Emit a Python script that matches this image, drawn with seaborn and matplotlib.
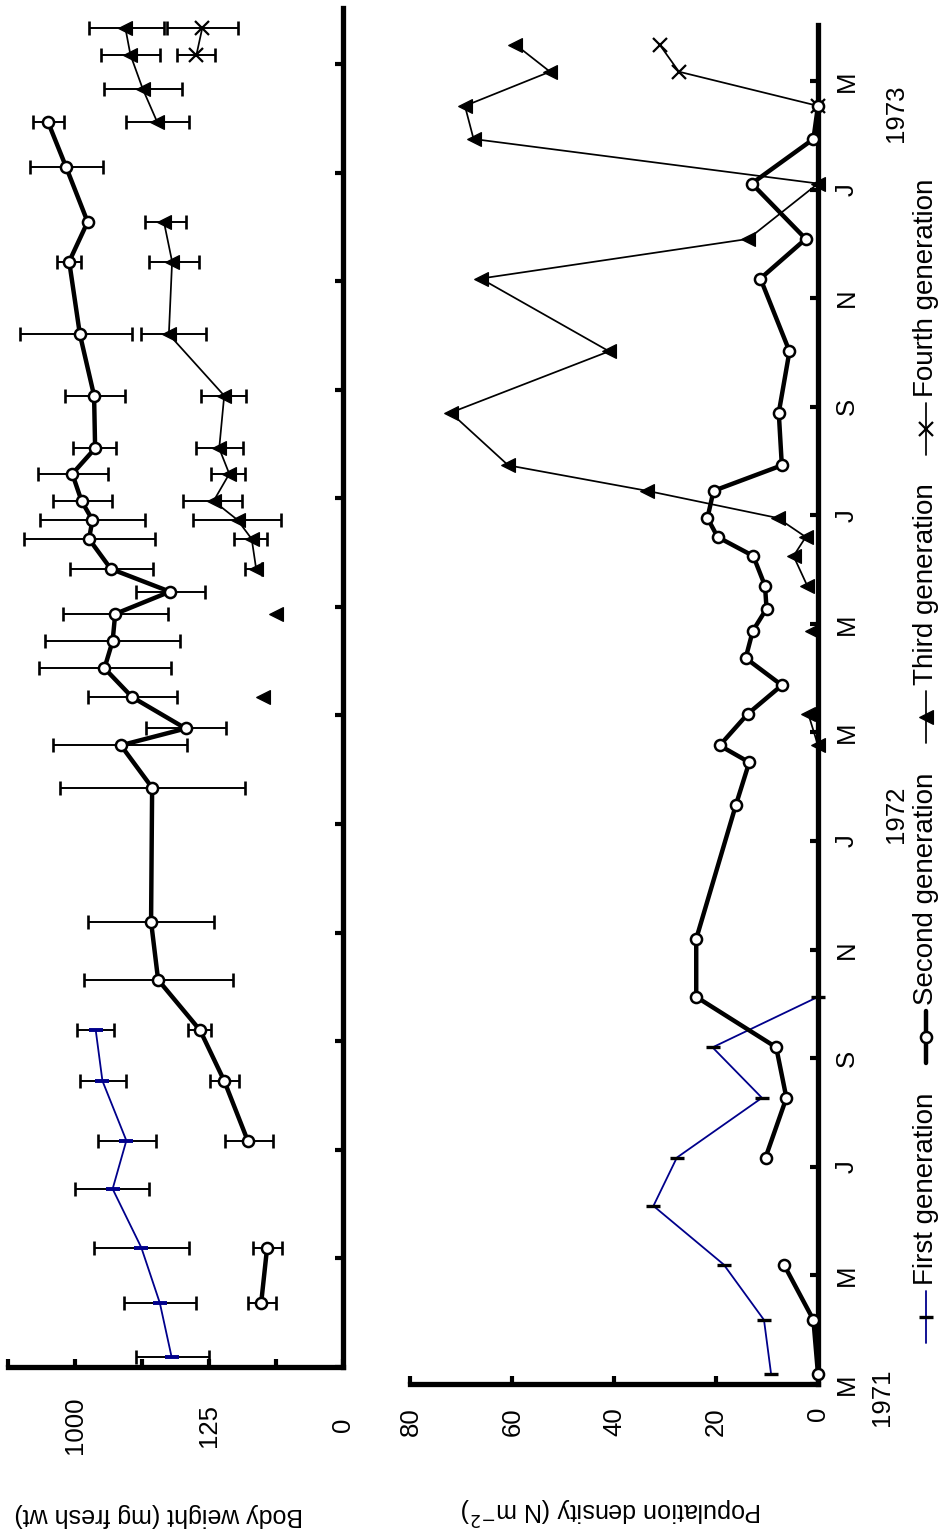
import numpy as np
import pandas as pd
import matplotlib
matplotlib.use("Agg")
import matplotlib.pyplot as plt
import seaborn as sns
from matplotlib.lines import Line2D
from matplotlib import font_manager

n = np.nan

# ---------------- data ----------------
# sampling dates, in months after 1 March 1971
sample_month = [0.18, 1.18, 2.20, 3.28, 4.17, 5.27, 6.20, 7.13, 8.20, 10.67, 11.45, 11.76,
                12.34, 12.87, 13.37, 13.87, 14.28, 14.70, 15.25, 15.60, 15.95, 16.45, 16.92,
                17.89, 19.02, 20.36, 21.09, 22.11, 22.93, 23.54, 24.17, 24.67]

# body weight (mg fresh wt): mean and error-bar ends
gen1_weight = [262, 320, 427, 636, 529, 724, 786] + [n] * 25
gen1_weight_lo = [125, 166, 190, 378, 343, 529, 621] + [n] * 25
gen1_weight_hi = [462, 549, 799, 1000, 761, 947, 976] + [n] * 25

gen2_weight = [n, 28.7, 22.9, n, 45.3, 87.5, 152, 329, 368, 362, 570, 203, 489, 706, 636, 615,
               270, 651, 852, 818, 929, 1031, 792, 802, 947, 1067, 866, 1106, 1334, n, n, n]
gen2_weight_lo = [n, 15.6, 11.7, n, 18.2, 58.3, 119, 70.3, 111, 49.1, 197, 83.7, 240, 267, 226, 278,
                  138, 357, 347, 406, 643, 677, 607, 542, 489, 938, n, 722, 1131, n, n, n]
gen2_weight_hi = [n, 45.3, 37.6, n, 85.2, 123, 193, 900, 866, 1177, 1262, 395, 858, 1459, 1371, 1139,
                  462, 1059, 1693, 1440, 1266, 1470, 1021, 1118, 1758, 1211, n, 1598, 1549, n, n, n]

gen3_weight = [n] * 12 + [27.0, n, n, 15.6, n, 34.3, 39.8, 61.2, 113, 76.8, 99.0, 87.5,
                          275, 260, 299, n, 334, 418, 500, 537]
gen3_weight_lo = [n] * 12 + [n, n, n, n, n, 27.6, 23.2, 12.8, 54.4, 48.6, 51.8, 47.6,
                             133, 156, 200, n, 190, 216, 321, 299]
gen3_weight_hi = [n] * 12 + [n, n, n, n, n, 48.6, 67.1, 175, 214, 119, 166, 148,
                             427, 381, 407, n, 529, 706, 736, 852]

gen4_weight = [n] * 30 + [164, 145]
gen4_weight_lo = [n] * 30 + [109, 61.2]
gen4_weight_hi = [n] * 30 + [237, 283]

# population density (N m-2)
gen1_density = [9.2, 10.6, 18.5, 32.3, 27.7, 11.0, 20.7, 0] + [n] * 24
gen2_density = [0, 0.9, 6.7, n, 10.3, 6.2, 8.2, 23.9, 23.9, 16.1, 13.5, 19.3, 13.8, 7.1, 14.2, 12.8,
                10.1, 10.4, 12.7, 19.7, 21.7, 20.5, 7.1, 7.7, 5.6, 11.3, 2.4, 13.0, 0.9, 0, n, n]
gen3_density = [n] * 11 + [0, 1.9, n, n, 1.2, n, 2.1, 4.8, 2.4, 7.9, 33.5, 60.8, 72.1, 41.0,
                           66.2, 13.7, 0, 67.6, 69.3, 52.6, 59.4]
gen4_density = [n] * 29 + [0, 27.3, 31.1]

# axes ticks / labels
month_ticks = [0, 2, 4, 6, 8, 10, 12, 14, 16, 18, 20, 22, 24]
month_labels = ["M", "M", "J", "S", "N", "J", "M", "M", "J", "S", "N", "J", "M"]
year_labels = ["1971", "1972", "1973"]
year_positions = [-0.24, 10.5, 23.4]
weight_ticks = [0, 15.625, 125, 421.875, 1000, 1953.125]
weight_tick_labels = ["0", "", "125", "", "1000", ""]
density_ticks = [0, 20, 40, 60, 80]
density_tick_labels = ["0", "20", "40", "60", "80"]
legend_labels = ["First generation", "Second generation", "Third generation", "Fourth generation"]

# ---------------- style ----------------
sns.set_theme(style="white")
plt.rcParams["font.family"] = ["Liberation Sans", "DejaVu Sans"]
names = {f.name for f in font_manager.fontManager.ttflist}
if "Liberation Sans Narrow" in names:
    tick_family, tick_size = ["Liberation Sans Narrow", "DejaVu Sans"], 21.5
else:
    tick_family, tick_size = ["Liberation Sans", "DejaVu Sans"], 18.5

W, H = 946, 1536
fig = plt.figure(figsize=(W / 100, H / 100), dpi=100)
fig.patch.set_facecolor("white")


def fx(px):
    return px / W


def fy(py):
    return 1 - py / H


ax1 = fig.add_axes([fx(8), fy(1367), (343.3 - 8) / W, (1367 - 8) / H])
ax2 = fig.add_axes([fx(410.4), fy(1384), (818 - 410.4) / W, (1384 - 25) / H])

ax1.set_xscale("function", functions=(np.cbrt, lambda v: v ** 3))

BLUE = "#00008b"
styles = {
    "g1": dict(color=BLUE, linewidth=1.3, marker="_", markersize=10, markeredgewidth=2.8,
               markeredgecolor=BLUE, markerfacecolor=BLUE),
    "g1b": dict(color=BLUE, linewidth=1.3, marker="_", markersize=10, markeredgewidth=2.4,
                markeredgecolor="black", markerfacecolor="black"),
    "g2": dict(color="black", linewidth=3.2, marker="o", markersize=8, markeredgewidth=1.8,
               markeredgecolor="black", markerfacecolor="white"),
    "g3": dict(color="black", linewidth=1.25, marker="<", markersize=9.5, markeredgewidth=0.8,
               markeredgecolor="black", markerfacecolor="black"),
    "g4": dict(color="black", linewidth=1.25, marker="x", markersize=9.5, markeredgewidth=1.6,
               markeredgecolor="black", markerfacecolor="black"),
}


def frame(values):
    v = np.asarray(values, dtype=float)
    seg = np.cumsum(np.isnan(v))
    df = pd.DataFrame({"month": sample_month, "value": v, "segment": seg})
    return df.dropna(subset=["value"])


def draw(ax, values, style):
    df = frame(values)
    sns.lineplot(data=df, x="value", y="month", units="segment", estimator=None,
                 orient="y", sort=False, legend=False, ax=ax, clip_on=False, zorder=3,
                 **styles[style])


def errbars(ax, mean, lo, hi):
    m = np.asarray(mean, float)
    l = np.asarray(lo, float)
    h = np.asarray(hi, float)
    t = np.asarray(sample_month, float)
    ok = ~(np.isnan(m) | np.isnan(l) | np.isnan(h))
    ax.errorbar(m[ok], t[ok], xerr=np.vstack([m[ok] - l[ok], h[ok] - m[ok]]), fmt="none",
                ecolor="black", elinewidth=1.4, capsize=4.7, capthick=1.9, zorder=2,
                clip_on=False)


# ---------- body weight panel ----------
errbars(ax1, gen1_weight, gen1_weight_lo, gen1_weight_hi)
errbars(ax1, gen2_weight, gen2_weight_lo, gen2_weight_hi)
errbars(ax1, gen3_weight, gen3_weight_lo, gen3_weight_hi)
errbars(ax1, gen4_weight, gen4_weight_lo, gen4_weight_hi)
draw(ax1, gen1_weight, "g1")
draw(ax1, gen2_weight, "g2")
draw(ax1, gen3_weight, "g3")
draw(ax1, gen4_weight, "g4")

# ---------- density panel ----------
draw(ax2, gen1_density, "g1b")
draw(ax2, gen3_density, "g3")
draw(ax2, gen4_density, "g4")
draw(ax2, gen2_density, "g2")

for ax in (ax1, ax2):
    ax.set_xlabel("")
    ax.set_ylabel("")
    ax.set_facecolor("white")
    ax.grid(False)
    ax.set_ylim(0, 25.03)
    ax.set_yticks(month_ticks)
    for s in ("top", "left"):
        ax.spines[s].set_visible(False)
    for s in ("bottom", "right"):
        ax.spines[s].set_visible(True)
        ax.spines[s].set_linewidth(3.8)
        ax.spines[s].set_color("black")
    ax.tick_params(axis="x", which="major", direction="in", length=5.5, width=3,
                   color="black", bottom=True, top=False)
    ax.tick_params(axis="y", which="major", direction="in", length=5.5, width=3,
                   color="black", left=False, right=True, labelleft=False)
    ax.minorticks_off()

ax1.set_xlim(1953.125, 0)
ax1.set_xticks(weight_ticks)
ax1.set_xticklabels(weight_tick_labels)
ax1.tick_params(axis="x", labelrotation=90, pad=41.8)
ax1.tick_params(axis="y", labelright=False)
for t in ax1.xaxis.get_major_ticks():
    t.label1.set_va("center")
    t.label1.set_fontfamily(tick_family)
    t.label1.set_fontsize(tick_size)
    t.label1.set_color("black")

ax2.set_xlim(80, 0)
ax2.set_xticks(density_ticks)
ax2.set_xticklabels(density_tick_labels)
ax2.tick_params(axis="x", labelrotation=90, pad=16.6)
for t in ax2.xaxis.get_major_ticks():
    t.label1.set_fontfamily(tick_family)
    t.label1.set_fontsize(tick_size)
    t.label1.set_color("black")
ax2.set_yticklabels(month_labels)
ax2.tick_params(axis="y", labelright=True, labelrotation=90, pad=12)
for t in ax2.yaxis.get_major_ticks():
    t.label2.set_va("center")
    t.label2.set_fontfamily(tick_family)
    t.label2.set_fontsize(tick_size)
    t.label2.set_color("black")

# year labels
yt = ax2.transData
for lab, pos, xpx in zip(year_labels, year_positions, [882, 896, 896]):
    ypix = fig.transFigure.inverted().transform(yt.transform((0, pos)))[1]
    fig.text(fx(xpx), ypix, lab, rotation=90, ha="center", va="center",
             fontfamily=tick_family, fontsize=tick_size, color="black")

# axis titles (upside down, as in the reference)
fig.text(fx(159), fy(1515), "Body weight (mg fresh wt)", rotation=180, ha="center",
         va="center", fontsize=18, color="black")
fig.text(fx(611), fy(1510), "Population density (N m$^{-2}$)", rotation=180, ha="center",
         va="center", fontsize=18, color="black")

# legend (vertical, reading bottom to top)
leg_x = 926
handle_starts = [1343, 1063, 743, 455]
text_starts = [1285, 1005, 685, 397]
leg_line = [dict(color=BLUE, lw=1.3), dict(color="black", lw=3.2),
            dict(color="black", lw=1.25), dict(color="black", lw=1.25)]
leg_mark = [dict(marker="_", ms=10, mew=2.4, mec="black", mfc="black"),
            dict(marker="o", ms=8, mew=1.8, mec="black", mfc="white"),
            dict(marker="<", ms=9.5, mew=0.8, mec="black", mfc="black"),
            dict(marker="x", ms=9.5, mew=1.6, mec="black", mfc="black")]
for lab, hs, ts, lk, mk in zip(legend_labels, handle_starts, text_starts, leg_line, leg_mark):
    fig.add_artist(Line2D([fx(leg_x), fx(leg_x)], [fy(hs), fy(hs - 52)],
                          transform=fig.transFigure, **lk))
    fig.add_artist(Line2D([fx(leg_x)], [fy(hs - 26)], transform=fig.transFigure,
                          linestyle="none", **mk))
    fig.text(fx(leg_x), fy(ts), lab, rotation=90, ha="center", va="bottom",
             fontsize=20, color="black")

fig.savefig("out.png", dpi=100, facecolor="white")
